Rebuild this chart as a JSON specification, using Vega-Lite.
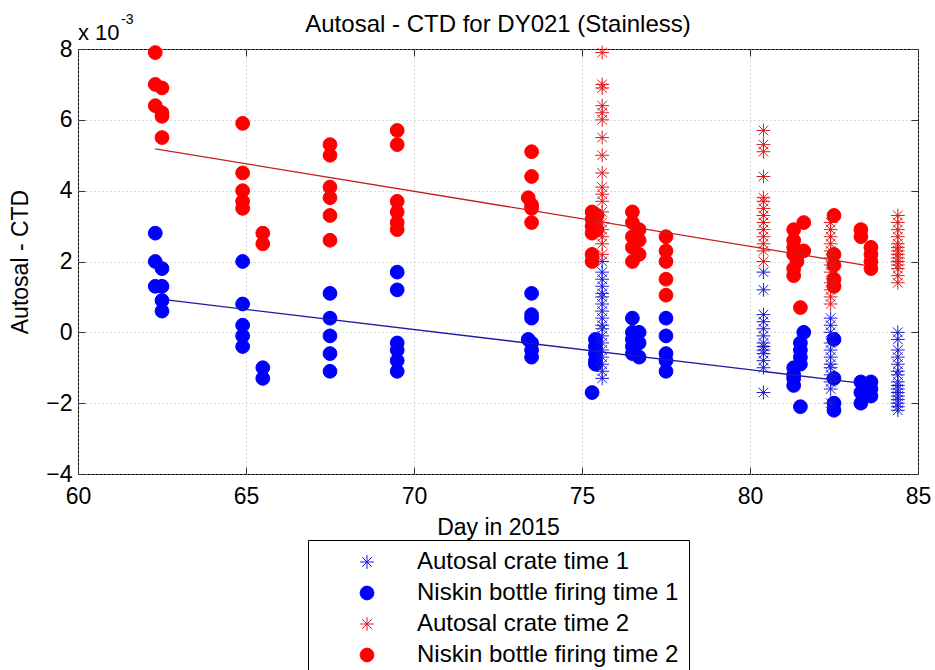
{
  "$schema": "https://vega.github.io/schema/vega-lite/v6.json",
  "width": 840,
  "height": 425,
  "autosize": "none",
  "padding": {"left": 78, "top": 49, "right": 17, "bottom": 196},
  "background": "white",
  "title": {"text": "Autosal - CTD for DY021 (Stainless)", "fontSize": 24, "fontWeight": "normal", "font": "Liberation Sans", "offset": -24, "color": "black"},
  "config": {
    "font": "Liberation Sans",
    "view": {"stroke": "black", "strokeWidth": 1},
    "axis": {"labelFont": "Liberation Sans", "titleFont": "Liberation Sans", "labelColor": "black", "titleColor": "black", "labelFontSize": 23, "titleFontSize": 23, "titleFontWeight": "normal", "domainColor": "black", "tickColor": "#333333", "gridColor": "#b5b5b5", "gridDash": [1, 3], "gridWidth": 1, "labelFlush": false, "labelOverlap": false}
  },
  "datasets": {
    "points": [
      {"series": "Niskin bottle firing time 1", "day": 62.3, "value": 2.8},
      {"series": "Niskin bottle firing time 1", "day": 62.3, "value": 2.0},
      {"series": "Niskin bottle firing time 1", "day": 62.3, "value": 1.3},
      {"series": "Niskin bottle firing time 1", "day": 62.5, "value": 1.8},
      {"series": "Niskin bottle firing time 1", "day": 62.5, "value": 1.3},
      {"series": "Niskin bottle firing time 1", "day": 62.5, "value": 0.9},
      {"series": "Niskin bottle firing time 1", "day": 62.5, "value": 0.6},
      {"series": "Niskin bottle firing time 1", "day": 64.9, "value": 2.0},
      {"series": "Niskin bottle firing time 1", "day": 64.9, "value": 0.8},
      {"series": "Niskin bottle firing time 1", "day": 64.9, "value": 0.2},
      {"series": "Niskin bottle firing time 1", "day": 64.9, "value": -0.1},
      {"series": "Niskin bottle firing time 1", "day": 64.9, "value": -0.4},
      {"series": "Niskin bottle firing time 1", "day": 65.5, "value": -1.0},
      {"series": "Niskin bottle firing time 1", "day": 65.5, "value": -1.3},
      {"series": "Niskin bottle firing time 1", "day": 67.5, "value": 1.1},
      {"series": "Niskin bottle firing time 1", "day": 67.5, "value": 0.4},
      {"series": "Niskin bottle firing time 1", "day": 67.5, "value": -0.1},
      {"series": "Niskin bottle firing time 1", "day": 67.5, "value": -0.6},
      {"series": "Niskin bottle firing time 1", "day": 67.5, "value": -1.1},
      {"series": "Niskin bottle firing time 1", "day": 69.5, "value": 1.7},
      {"series": "Niskin bottle firing time 1", "day": 69.5, "value": 1.2},
      {"series": "Niskin bottle firing time 1", "day": 69.5, "value": -0.3},
      {"series": "Niskin bottle firing time 1", "day": 69.5, "value": -0.5},
      {"series": "Niskin bottle firing time 1", "day": 69.5, "value": -0.8},
      {"series": "Niskin bottle firing time 1", "day": 69.5, "value": -1.1},
      {"series": "Niskin bottle firing time 1", "day": 73.5, "value": 1.1},
      {"series": "Niskin bottle firing time 1", "day": 73.5, "value": 0.5},
      {"series": "Niskin bottle firing time 1", "day": 73.5, "value": 0.4},
      {"series": "Niskin bottle firing time 1", "day": 73.4, "value": -0.2},
      {"series": "Niskin bottle firing time 1", "day": 73.5, "value": -0.3},
      {"series": "Niskin bottle firing time 1", "day": 73.5, "value": -0.5},
      {"series": "Niskin bottle firing time 1", "day": 73.5, "value": -0.7},
      {"series": "Niskin bottle firing time 1", "day": 75.4, "value": -0.2},
      {"series": "Niskin bottle firing time 1", "day": 75.4, "value": -0.4},
      {"series": "Niskin bottle firing time 1", "day": 75.4, "value": -0.6},
      {"series": "Niskin bottle firing time 1", "day": 75.4, "value": -0.8},
      {"series": "Niskin bottle firing time 1", "day": 75.4, "value": -0.9},
      {"series": "Niskin bottle firing time 1", "day": 75.3, "value": -1.7},
      {"series": "Niskin bottle firing time 1", "day": 76.5, "value": 0.4},
      {"series": "Niskin bottle firing time 1", "day": 76.5, "value": 0.0},
      {"series": "Niskin bottle firing time 1", "day": 76.5, "value": -0.2},
      {"series": "Niskin bottle firing time 1", "day": 76.5, "value": -0.4},
      {"series": "Niskin bottle firing time 1", "day": 76.5, "value": -0.6},
      {"series": "Niskin bottle firing time 1", "day": 76.7, "value": 0.0},
      {"series": "Niskin bottle firing time 1", "day": 76.7, "value": -0.3},
      {"series": "Niskin bottle firing time 1", "day": 76.7, "value": -0.7},
      {"series": "Niskin bottle firing time 1", "day": 77.5, "value": 0.4},
      {"series": "Niskin bottle firing time 1", "day": 77.5, "value": -0.1},
      {"series": "Niskin bottle firing time 1", "day": 77.5, "value": -0.6},
      {"series": "Niskin bottle firing time 1", "day": 77.5, "value": -0.8},
      {"series": "Niskin bottle firing time 1", "day": 77.5, "value": -1.1},
      {"series": "Niskin bottle firing time 1", "day": 81.3, "value": -1.0},
      {"series": "Niskin bottle firing time 1", "day": 81.3, "value": -1.2},
      {"series": "Niskin bottle firing time 1", "day": 81.3, "value": -1.3},
      {"series": "Niskin bottle firing time 1", "day": 81.3, "value": -1.5},
      {"series": "Niskin bottle firing time 1", "day": 81.6, "value": 0.0},
      {"series": "Niskin bottle firing time 1", "day": 81.5, "value": -0.3},
      {"series": "Niskin bottle firing time 1", "day": 81.5, "value": -0.5},
      {"series": "Niskin bottle firing time 1", "day": 81.5, "value": -0.7},
      {"series": "Niskin bottle firing time 1", "day": 81.5, "value": -0.9},
      {"series": "Niskin bottle firing time 1", "day": 81.5, "value": -2.1},
      {"series": "Niskin bottle firing time 1", "day": 82.5, "value": -0.2},
      {"series": "Niskin bottle firing time 1", "day": 82.5, "value": -1.3},
      {"series": "Niskin bottle firing time 1", "day": 82.5, "value": -2.0},
      {"series": "Niskin bottle firing time 1", "day": 82.5, "value": -2.2},
      {"series": "Niskin bottle firing time 1", "day": 83.3, "value": -1.4},
      {"series": "Niskin bottle firing time 1", "day": 83.3, "value": -1.7},
      {"series": "Niskin bottle firing time 1", "day": 83.3, "value": -2.0},
      {"series": "Niskin bottle firing time 1", "day": 83.6, "value": -1.4},
      {"series": "Niskin bottle firing time 1", "day": 83.6, "value": -1.6},
      {"series": "Niskin bottle firing time 1", "day": 83.6, "value": -1.8},

      {"series": "Autosal crate time 1", "day": 75.6, "value": 2.0},
      {"series": "Autosal crate time 1", "day": 75.6, "value": 1.7},
      {"series": "Autosal crate time 1", "day": 75.6, "value": 1.5},
      {"series": "Autosal crate time 1", "day": 75.6, "value": 1.3},
      {"series": "Autosal crate time 1", "day": 75.6, "value": 1.1},
      {"series": "Autosal crate time 1", "day": 75.6, "value": 1.0},
      {"series": "Autosal crate time 1", "day": 75.6, "value": 0.8},
      {"series": "Autosal crate time 1", "day": 75.6, "value": 0.6},
      {"series": "Autosal crate time 1", "day": 75.6, "value": 0.4},
      {"series": "Autosal crate time 1", "day": 75.6, "value": 0.2},
      {"series": "Autosal crate time 1", "day": 75.6, "value": 0.1},
      {"series": "Autosal crate time 1", "day": 75.6, "value": -0.1},
      {"series": "Autosal crate time 1", "day": 75.6, "value": -0.3},
      {"series": "Autosal crate time 1", "day": 75.6, "value": -0.5},
      {"series": "Autosal crate time 1", "day": 75.6, "value": -0.7},
      {"series": "Autosal crate time 1", "day": 75.6, "value": -0.9},
      {"series": "Autosal crate time 1", "day": 75.6, "value": -1.1},
      {"series": "Autosal crate time 1", "day": 75.6, "value": -1.3},
      {"series": "Autosal crate time 1", "day": 80.4, "value": 1.7},
      {"series": "Autosal crate time 1", "day": 80.4, "value": 1.2},
      {"series": "Autosal crate time 1", "day": 80.4, "value": 0.5},
      {"series": "Autosal crate time 1", "day": 80.4, "value": 0.3},
      {"series": "Autosal crate time 1", "day": 80.4, "value": 0.1},
      {"series": "Autosal crate time 1", "day": 80.4, "value": -0.1},
      {"series": "Autosal crate time 1", "day": 80.4, "value": -0.3},
      {"series": "Autosal crate time 1", "day": 80.4, "value": -0.4},
      {"series": "Autosal crate time 1", "day": 80.4, "value": -0.5},
      {"series": "Autosal crate time 1", "day": 80.4, "value": -0.6},
      {"series": "Autosal crate time 1", "day": 80.4, "value": -0.8},
      {"series": "Autosal crate time 1", "day": 80.4, "value": -1.0},
      {"series": "Autosal crate time 1", "day": 80.4, "value": -1.7},
      {"series": "Autosal crate time 1", "day": 82.4, "value": 0.4},
      {"series": "Autosal crate time 1", "day": 82.4, "value": 0.2},
      {"series": "Autosal crate time 1", "day": 82.4, "value": 0.0},
      {"series": "Autosal crate time 1", "day": 82.4, "value": -0.3},
      {"series": "Autosal crate time 1", "day": 82.4, "value": -0.5},
      {"series": "Autosal crate time 1", "day": 82.4, "value": -0.7},
      {"series": "Autosal crate time 1", "day": 82.4, "value": -0.9},
      {"series": "Autosal crate time 1", "day": 82.4, "value": -1.0},
      {"series": "Autosal crate time 1", "day": 82.4, "value": -1.2},
      {"series": "Autosal crate time 1", "day": 82.4, "value": -1.4},
      {"series": "Autosal crate time 1", "day": 82.4, "value": -1.6},
      {"series": "Autosal crate time 1", "day": 82.4, "value": -2.0},
      {"series": "Autosal crate time 1", "day": 84.4, "value": 0.0},
      {"series": "Autosal crate time 1", "day": 84.4, "value": -0.2},
      {"series": "Autosal crate time 1", "day": 84.4, "value": -0.5},
      {"series": "Autosal crate time 1", "day": 84.4, "value": -0.7},
      {"series": "Autosal crate time 1", "day": 84.4, "value": -0.9},
      {"series": "Autosal crate time 1", "day": 84.4, "value": -1.1},
      {"series": "Autosal crate time 1", "day": 84.4, "value": -1.2},
      {"series": "Autosal crate time 1", "day": 84.4, "value": -1.4},
      {"series": "Autosal crate time 1", "day": 84.4, "value": -1.5},
      {"series": "Autosal crate time 1", "day": 84.4, "value": -1.6},
      {"series": "Autosal crate time 1", "day": 84.4, "value": -1.7},
      {"series": "Autosal crate time 1", "day": 84.4, "value": -1.8},
      {"series": "Autosal crate time 1", "day": 84.4, "value": -1.9},
      {"series": "Autosal crate time 1", "day": 84.4, "value": -2.0},
      {"series": "Autosal crate time 1", "day": 84.4, "value": -2.1},
      {"series": "Autosal crate time 1", "day": 84.4, "value": -2.2},

      {"series": "Niskin bottle firing time 2", "day": 62.3, "value": 7.9},
      {"series": "Niskin bottle firing time 2", "day": 62.3, "value": 7.0},
      {"series": "Niskin bottle firing time 2", "day": 62.3, "value": 6.4},
      {"series": "Niskin bottle firing time 2", "day": 62.5, "value": 6.9},
      {"series": "Niskin bottle firing time 2", "day": 62.5, "value": 6.2},
      {"series": "Niskin bottle firing time 2", "day": 62.5, "value": 6.1},
      {"series": "Niskin bottle firing time 2", "day": 62.5, "value": 5.5},
      {"series": "Niskin bottle firing time 2", "day": 64.9, "value": 5.9},
      {"series": "Niskin bottle firing time 2", "day": 64.9, "value": 4.5},
      {"series": "Niskin bottle firing time 2", "day": 64.9, "value": 4.0},
      {"series": "Niskin bottle firing time 2", "day": 64.9, "value": 3.7},
      {"series": "Niskin bottle firing time 2", "day": 64.9, "value": 3.5},
      {"series": "Niskin bottle firing time 2", "day": 65.5, "value": 2.8},
      {"series": "Niskin bottle firing time 2", "day": 65.5, "value": 2.5},
      {"series": "Niskin bottle firing time 2", "day": 67.5, "value": 5.3},
      {"series": "Niskin bottle firing time 2", "day": 67.5, "value": 5.0},
      {"series": "Niskin bottle firing time 2", "day": 67.5, "value": 4.1},
      {"series": "Niskin bottle firing time 2", "day": 67.5, "value": 3.8},
      {"series": "Niskin bottle firing time 2", "day": 67.5, "value": 3.3},
      {"series": "Niskin bottle firing time 2", "day": 67.5, "value": 2.6},
      {"series": "Niskin bottle firing time 2", "day": 69.5, "value": 5.7},
      {"series": "Niskin bottle firing time 2", "day": 69.5, "value": 5.3},
      {"series": "Niskin bottle firing time 2", "day": 69.5, "value": 3.7},
      {"series": "Niskin bottle firing time 2", "day": 69.5, "value": 3.4},
      {"series": "Niskin bottle firing time 2", "day": 69.5, "value": 3.1},
      {"series": "Niskin bottle firing time 2", "day": 69.5, "value": 2.9},
      {"series": "Niskin bottle firing time 2", "day": 73.5, "value": 5.1},
      {"series": "Niskin bottle firing time 2", "day": 73.5, "value": 4.4},
      {"series": "Niskin bottle firing time 2", "day": 73.4, "value": 3.8},
      {"series": "Niskin bottle firing time 2", "day": 73.5, "value": 3.6},
      {"series": "Niskin bottle firing time 2", "day": 73.5, "value": 3.5},
      {"series": "Niskin bottle firing time 2", "day": 73.5, "value": 3.1},
      {"series": "Niskin bottle firing time 2", "day": 75.3, "value": 3.4},
      {"series": "Niskin bottle firing time 2", "day": 75.3, "value": 3.2},
      {"series": "Niskin bottle firing time 2", "day": 75.3, "value": 3.0},
      {"series": "Niskin bottle firing time 2", "day": 75.3, "value": 2.8},
      {"series": "Niskin bottle firing time 2", "day": 75.3, "value": 2.2},
      {"series": "Niskin bottle firing time 2", "day": 75.3, "value": 2.0},
      {"series": "Niskin bottle firing time 2", "day": 75.45, "value": 3.3},
      {"series": "Niskin bottle firing time 2", "day": 75.45, "value": 2.9},
      {"series": "Niskin bottle firing time 2", "day": 76.5, "value": 3.4},
      {"series": "Niskin bottle firing time 2", "day": 76.5, "value": 3.1},
      {"series": "Niskin bottle firing time 2", "day": 76.5, "value": 2.7},
      {"series": "Niskin bottle firing time 2", "day": 76.5, "value": 2.4},
      {"series": "Niskin bottle firing time 2", "day": 76.5, "value": 2.0},
      {"series": "Niskin bottle firing time 2", "day": 76.7, "value": 2.9},
      {"series": "Niskin bottle firing time 2", "day": 76.7, "value": 2.6},
      {"series": "Niskin bottle firing time 2", "day": 76.7, "value": 2.2},
      {"series": "Niskin bottle firing time 2", "day": 77.5, "value": 2.7},
      {"series": "Niskin bottle firing time 2", "day": 77.5, "value": 2.3},
      {"series": "Niskin bottle firing time 2", "day": 77.5, "value": 2.0},
      {"series": "Niskin bottle firing time 2", "day": 77.5, "value": 1.5},
      {"series": "Niskin bottle firing time 2", "day": 77.5, "value": 1.05},
      {"series": "Niskin bottle firing time 2", "day": 81.3, "value": 2.9},
      {"series": "Niskin bottle firing time 2", "day": 81.3, "value": 2.6},
      {"series": "Niskin bottle firing time 2", "day": 81.3, "value": 2.4},
      {"series": "Niskin bottle firing time 2", "day": 81.3, "value": 2.2},
      {"series": "Niskin bottle firing time 2", "day": 81.4, "value": 2.0},
      {"series": "Niskin bottle firing time 2", "day": 81.3, "value": 1.8},
      {"series": "Niskin bottle firing time 2", "day": 81.3, "value": 1.6},
      {"series": "Niskin bottle firing time 2", "day": 81.6, "value": 3.1},
      {"series": "Niskin bottle firing time 2", "day": 81.6, "value": 2.3},
      {"series": "Niskin bottle firing time 2", "day": 81.5, "value": 0.7},
      {"series": "Niskin bottle firing time 2", "day": 82.5, "value": 3.3},
      {"series": "Niskin bottle firing time 2", "day": 82.5, "value": 2.2},
      {"series": "Niskin bottle firing time 2", "day": 82.5, "value": 1.9},
      {"series": "Niskin bottle firing time 2", "day": 82.5, "value": 1.5},
      {"series": "Niskin bottle firing time 2", "day": 82.5, "value": 1.3},
      {"series": "Niskin bottle firing time 2", "day": 83.3, "value": 2.9},
      {"series": "Niskin bottle firing time 2", "day": 83.3, "value": 2.7},
      {"series": "Niskin bottle firing time 2", "day": 83.6, "value": 2.4},
      {"series": "Niskin bottle firing time 2", "day": 83.6, "value": 2.2},
      {"series": "Niskin bottle firing time 2", "day": 83.6, "value": 2.0},
      {"series": "Niskin bottle firing time 2", "day": 83.6, "value": 1.8},

      {"series": "Autosal crate time 2", "day": 75.6, "value": 7.9},
      {"series": "Autosal crate time 2", "day": 75.6, "value": 7.0},
      {"series": "Autosal crate time 2", "day": 75.6, "value": 6.9},
      {"series": "Autosal crate time 2", "day": 75.6, "value": 6.4},
      {"series": "Autosal crate time 2", "day": 75.6, "value": 6.2},
      {"series": "Autosal crate time 2", "day": 75.6, "value": 6.0},
      {"series": "Autosal crate time 2", "day": 75.6, "value": 5.5},
      {"series": "Autosal crate time 2", "day": 75.6, "value": 5.0},
      {"series": "Autosal crate time 2", "day": 75.6, "value": 4.5},
      {"series": "Autosal crate time 2", "day": 75.6, "value": 4.1},
      {"series": "Autosal crate time 2", "day": 75.6, "value": 3.9},
      {"series": "Autosal crate time 2", "day": 75.6, "value": 3.7},
      {"series": "Autosal crate time 2", "day": 75.6, "value": 3.4},
      {"series": "Autosal crate time 2", "day": 75.6, "value": 3.1},
      {"series": "Autosal crate time 2", "day": 75.6, "value": 2.9},
      {"series": "Autosal crate time 2", "day": 75.6, "value": 2.7},
      {"series": "Autosal crate time 2", "day": 75.6, "value": 2.5},
      {"series": "Autosal crate time 2", "day": 75.6, "value": 2.2},
      {"series": "Autosal crate time 2", "day": 80.4, "value": 5.7},
      {"series": "Autosal crate time 2", "day": 80.4, "value": 5.3},
      {"series": "Autosal crate time 2", "day": 80.4, "value": 5.1},
      {"series": "Autosal crate time 2", "day": 80.4, "value": 4.4},
      {"series": "Autosal crate time 2", "day": 80.4, "value": 3.8},
      {"series": "Autosal crate time 2", "day": 80.4, "value": 3.7},
      {"series": "Autosal crate time 2", "day": 80.4, "value": 3.5},
      {"series": "Autosal crate time 2", "day": 80.4, "value": 3.3},
      {"series": "Autosal crate time 2", "day": 80.4, "value": 3.1},
      {"series": "Autosal crate time 2", "day": 80.4, "value": 2.9},
      {"series": "Autosal crate time 2", "day": 80.4, "value": 2.7},
      {"series": "Autosal crate time 2", "day": 80.4, "value": 2.5},
      {"series": "Autosal crate time 2", "day": 80.4, "value": 2.3},
      {"series": "Autosal crate time 2", "day": 80.4, "value": 2.0},
      {"series": "Autosal crate time 2", "day": 82.4, "value": 3.1},
      {"series": "Autosal crate time 2", "day": 82.4, "value": 2.9},
      {"series": "Autosal crate time 2", "day": 82.4, "value": 2.7},
      {"series": "Autosal crate time 2", "day": 82.4, "value": 2.5},
      {"series": "Autosal crate time 2", "day": 82.4, "value": 2.3},
      {"series": "Autosal crate time 2", "day": 82.4, "value": 2.1},
      {"series": "Autosal crate time 2", "day": 82.4, "value": 1.9},
      {"series": "Autosal crate time 2", "day": 82.4, "value": 1.7},
      {"series": "Autosal crate time 2", "day": 82.4, "value": 1.4},
      {"series": "Autosal crate time 2", "day": 82.4, "value": 1.2},
      {"series": "Autosal crate time 2", "day": 82.4, "value": 1.0},
      {"series": "Autosal crate time 2", "day": 82.4, "value": 0.8},
      {"series": "Autosal crate time 2", "day": 84.4, "value": 3.3},
      {"series": "Autosal crate time 2", "day": 84.4, "value": 3.1},
      {"series": "Autosal crate time 2", "day": 84.4, "value": 2.9},
      {"series": "Autosal crate time 2", "day": 84.4, "value": 2.7},
      {"series": "Autosal crate time 2", "day": 84.4, "value": 2.5},
      {"series": "Autosal crate time 2", "day": 84.4, "value": 2.4},
      {"series": "Autosal crate time 2", "day": 84.4, "value": 2.3},
      {"series": "Autosal crate time 2", "day": 84.4, "value": 2.2},
      {"series": "Autosal crate time 2", "day": 84.4, "value": 2.1},
      {"series": "Autosal crate time 2", "day": 84.4, "value": 2.0},
      {"series": "Autosal crate time 2", "day": 84.4, "value": 1.9},
      {"series": "Autosal crate time 2", "day": 84.4, "value": 1.8},
      {"series": "Autosal crate time 2", "day": 84.4, "value": 1.6},
      {"series": "Autosal crate time 2", "day": 84.4, "value": 1.4}
    ],
    "fits": [
      {"fit": "time 1", "day": 62.7, "value": 0.91},
      {"fit": "time 1", "day": 83.1, "value": -1.41},
      {"fit": "time 2", "day": 62.3, "value": 5.18},
      {"fit": "time 2", "day": 83.4, "value": 1.9}
    ]
  },
  "resolve": {"axis": {"x": "independent", "y": "independent"}},
  "layer": [
    {
      "data": {"name": "points"},
      "mark": {"type": "point", "filled": false, "opacity": 0},
      "encoding": {
        "x": {"field": "day", "type": "quantitative", "scale": {"domain": [60, 85], "nice": false, "zero": false},
          "axis": {"orient": "top", "values": [60, 65, 70, 75, 80, 85], "labels": false, "title": null, "grid": false, "ticks": true, "tickSize": -7, "domain": false}},
        "y": {"field": "value", "type": "quantitative", "scale": {"domain": [-4, 8], "nice": false, "zero": false},
          "axis": {"orient": "right", "values": [-4, -2, 0, 2, 4, 6, 8], "labels": false, "title": null, "grid": false, "ticks": true, "tickSize": -7, "domain": false}}
      }
    },
    {
      "data": {"name": "points"},
      "mark": {"type": "point", "filled": true, "size": 190, "strokeWidth": 1, "opacity": 1},
      "encoding": {
        "x": {"field": "day", "type": "quantitative", "scale": {"domain": [60, 85], "nice": false, "zero": false},
          "axis": {"orient": "bottom", "values": [60, 65, 70, 75, 80, 85], "title": "Day in 2015", "grid": true, "tickSize": -7, "labelPadding": 18, "titlePadding": 8, "domain": false}},
        "y": {"field": "value", "type": "quantitative", "scale": {"domain": [-4, 8], "nice": false, "zero": false},
          "axis": {"orient": "left", "values": [-4, -2, 0, 2, 4, 6, 8], "title": "Autosal - CTD", "grid": true, "tickSize": -7, "labelPadding": 13, "titlePadding": 13, "domain": false}},
        "color": {"field": "series", "type": "nominal",
          "scale": {"domain": ["Autosal crate time 1", "Niskin bottle firing time 1", "Autosal crate time 2", "Niskin bottle firing time 2"], "range": ["#0000ff", "#0000ff", "#ff0000", "#ff0000"]},
          "legend": {"title": null, "orient": "none", "legendX": 230, "legendY": 491, "direction": "vertical", "strokeColor": "black", "fillColor": "white", "padding": 10, "labelFontSize": 24, "labelFont": "Liberation Sans", "labelColor": "black", "symbolSize": 190, "symbolStrokeWidth": 1, "symbolOffset": 37, "labelOffset": 38, "rowPadding": 7, "labelLimit": 400}},
        "stroke": {"field": "series", "type": "nominal",
          "scale": {"domain": ["Autosal crate time 1", "Niskin bottle firing time 1", "Autosal crate time 2", "Niskin bottle firing time 2"], "range": ["#1a1ad8", "#0000ff", "#e01818", "#ff0000"]},
          "legend": {"title": null, "orient": "none", "legendX": 230, "legendY": 491, "direction": "vertical", "strokeColor": "black", "fillColor": "white", "padding": 10, "labelFontSize": 24, "labelFont": "Liberation Sans", "labelColor": "black", "symbolSize": 190, "symbolStrokeWidth": 1, "symbolOffset": 37, "labelOffset": 38, "rowPadding": 7, "labelLimit": 400}},
        "shape": {"field": "series", "type": "nominal",
          "scale": {"domain": ["Autosal crate time 1", "Niskin bottle firing time 1", "Autosal crate time 2", "Niskin bottle firing time 2"], "range": ["M-1,0L1,0M0,-1L0,1M-0.7,-0.7L0.7,0.7M-0.7,0.7L0.7,-0.7", "circle", "M-1,0L1,0M0,-1L0,1M-0.7,-0.7L0.7,0.7M-0.7,0.7L0.7,-0.7", "circle"]},
          "legend": {"title": null, "orient": "none", "legendX": 230, "legendY": 491, "direction": "vertical", "strokeColor": "black", "fillColor": "white", "padding": 10, "labelFontSize": 24, "labelFont": "Liberation Sans", "labelColor": "black", "symbolSize": 190, "symbolStrokeWidth": 1, "symbolOffset": 37, "labelOffset": 38, "rowPadding": 7, "labelLimit": 400}}
      }
    },
    {
      "data": {"name": "fits"},
      "transform": [{"filter": "datum.fit == 'time 1'"}],
      "mark": {"type": "line", "color": "#1c1ca8", "strokeWidth": 1.3},
      "encoding": {
        "x": {"field": "day", "type": "quantitative", "axis": null},
        "y": {"field": "value", "type": "quantitative", "axis": null}
      }
    },
    {
      "data": {"name": "fits"},
      "transform": [{"filter": "datum.fit == 'time 2'"}],
      "mark": {"type": "line", "color": "#c42020", "strokeWidth": 1.3},
      "encoding": {
        "x": {"field": "day", "type": "quantitative", "axis": null},
        "y": {"field": "value", "type": "quantitative", "axis": null}
      }
    },
    {
      "data": {"values": [{}]},
      "mark": {"type": "text", "text": "x 10", "align": "left", "baseline": "alphabetic", "dx": 0, "dy": -9, "fontSize": 22, "font": "Liberation Sans", "color": "black"},
      "encoding": {
        "x": {"datum": 60, "type": "quantitative", "axis": null},
        "y": {"datum": 8, "type": "quantitative", "axis": null}
      }
    },
    {
      "data": {"values": [{}]},
      "mark": {"type": "text", "text": "-3", "align": "left", "baseline": "alphabetic", "dx": 43, "dy": -25, "fontSize": 14, "font": "Liberation Sans", "color": "black"},
      "encoding": {
        "x": {"datum": 60, "type": "quantitative", "axis": null},
        "y": {"datum": 8, "type": "quantitative", "axis": null}
      }
    }
  ]
}
